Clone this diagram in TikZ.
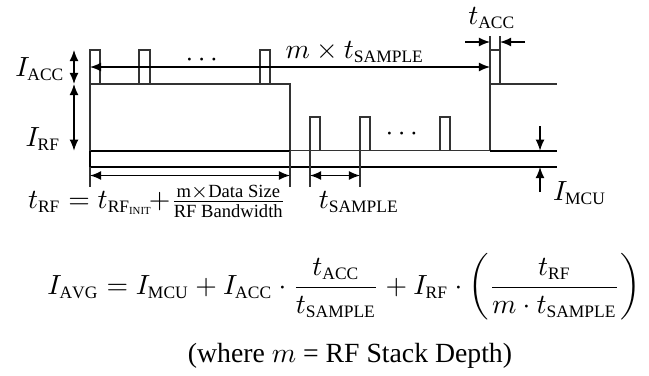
\documentclass[tikz,border=0pt]{standalone}
\usepackage{amsmath}
\usepackage{fontspec}
\setmainfont{Liberation Serif}
\DeclareMathSizes{10}{10}{6.3}{4.4}
\usetikzlibrary{arrows.meta}
\tikzset{
  wave/.style={draw=black!80, line width=0.4pt},
  heavy/.style={draw=black, line width=0.8pt},
  tickline/.style={draw=black!80, line width=0.4pt},
  dimline/.style={draw=black, line width=0.45pt, {Latex[length=4pt,width=3.2pt]}-{Latex[length=4pt,width=3.2pt]}},
  onearrow/.style={draw=black, line width=0.45pt, -{Latex[length=4pt,width=3.2pt]}},
  lbl/.style={inner sep=0pt, outer sep=0pt},
}
\newcommand{\fractxt}[1]{\text{\fontsize{6.7}{7}\selectfont #1}}
\begin{document}
\begin{tikzpicture}[x=0.3606pt,y=-0.3606pt]
\useasboundingbox (0,0) rectangle (649,375);
% key coordinates
\coordinate (accL) at (74,50);
\coordinate (accR) at (74,84);
\coordinate (rfB) at (74,150.7);
\coordinate (mL) at (90,67);
\coordinate (mR) at (490,67);
\coordinate (trfL) at (90,175.5);
\coordinate (trfR) at (290,175.5);
\coordinate (tsL) at (310,175.5);
\coordinate (tsR) at (360,175.5);
\coordinate (taL0) at (465,42);
\coordinate (taL1) at (490,42);
\coordinate (taR0) at (525,42);
\coordinate (taR1) at (500,42);
\coordinate (mcuT0) at (540,126);
\coordinate (mcuT1) at (540,150.7);
\coordinate (mcuB0) at (540,192);
\coordinate (mcuB1) at (540,167);
% waveform
\draw[wave] (90,50) rectangle (100,84);
\draw[wave] (139,50) rectangle (150,84);
\draw[wave] (260,50) rectangle (270,84);
\draw[wave] (490,50) rectangle (500,84);
\draw[wave] (90,84) rectangle (290,150.7);
\draw[wave] (310,117) rectangle (320,150.7);
\draw[wave] (360,117) rectangle (370,150.7);
\draw[wave] (440,117) rectangle (450,150.7);
\draw[wave] (500,84) -- (557,84);
\draw[wave] (490,84) -- (490,150.7);
\draw[wave] (90,150.7) -- (557,150.7);
\draw[heavy] (90,150.7) -- (290,150.7);
\draw[heavy] (490,150.7) -- (557,150.7);
\draw[draw=black, line width=0.5pt] (90,167) -- (557,167);
\draw[wave] (90,50) -- (90,187);
\draw[heavy] (90,150.7) -- (90,167);
% ticks
\draw[tickline] (290,150.7) -- (290,187);
\draw[tickline] (310,150.7) -- (310,187);
\draw[tickline] (360,150.7) -- (360,187);
\draw[tickline] (490,36) -- (490,50);
\draw[tickline] (500,36) -- (500,50);
% arrows
\draw[dimline] (accL) -- (accR);
\draw[dimline] (accR) -- (rfB);
\draw[dimline] (mL) -- (mR);
\draw[dimline] (trfL) -- (trfR);
\draw[dimline] (tsL) -- (tsR);
\draw[onearrow] (taL0) -- (taL1);
\draw[onearrow] (taR0) -- (taR1);
\draw[onearrow] (mcuT0) -- (mcuT1);
\draw[onearrow] (mcuB0) -- (mcuB1);
% dots
\node[lbl, anchor=base] (dots1) at (204,66) {$\cdots$};
\node[lbl, anchor=base] (dots2) at (404,140) {$\cdots$};
% labels
\node[lbl, anchor=base] (lacc) at (40,76) {$I_{\mathrm{ACC}}$};
\node[lbl, anchor=base] (lrf) at (43,146) {$I_{\mathrm{RF}}$};
\node[lbl, anchor=base] (lm) at (355,58) {$m \times t_{\mathrm{SAMPLE}}$};
\node[lbl, anchor=base] (ltacc) at (492,24) {$t_{\mathrm{ACC}}$};
\node[lbl, anchor=base west] (ltrf) at (28,208) {$t_{\mathrm{RF}} = t_{\mathrm{RF}_{\mbox{\fontsize{3.9}{4}\selectfont INIT}}}\mkern-3mu{+}\frac{\fractxt{m$\times$Data Size}}{\fractxt{RF Bandwidth}}$};
\node[lbl, anchor=base] (lts) at (359,208) {$t_{\mathrm{SAMPLE}}$};
\node[lbl, anchor=base west] (lmcu) at (553,200) {$I_{\mathrm{MCU}}$};
\node[lbl, anchor=base] (eq) at (344,294) {$\displaystyle I_{\mathrm{AVG}} = I_{\mathrm{MCU}} + I_{\mathrm{ACC}}\cdot\frac{t_{\mathrm{ACC}}}{t_{\mathrm{SAMPLE}}} + I_{\mathrm{RF}}\cdot\left(\frac{t_{\mathrm{RF}}}{m\cdot t_{\mathrm{SAMPLE}}}\right)$};
\node[lbl, anchor=base] (where) at (350,362) {(where $m$ = RF Stack Depth)};
\end{tikzpicture}
\end{document}
